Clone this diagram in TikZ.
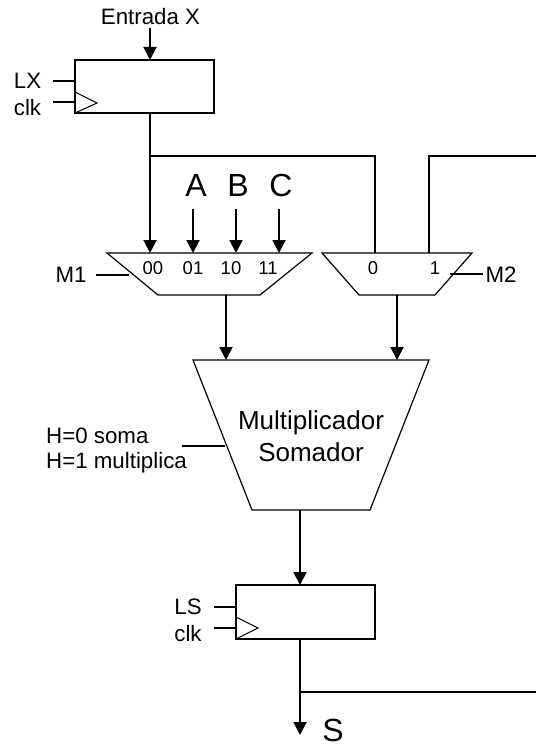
\documentclass[tikz,border=0pt]{standalone}
\usepackage{fontspec}
\setmainfont{Liberation Sans}
\usepackage{xcolor}
\usepackage{tikz}
\usetikzlibrary{arrows.meta}

\tikzset{
    wire/.style={line width=1.2pt},
    bus/.style={line width=1.9pt, -{Triangle[length=13pt, width=13pt]}},
    reg/.style={draw, line width=1.2pt, rectangle, inner sep=0pt, outer sep=0pt},
    mux/.style={line width=1.2pt, line join=miter},
    small/.style={font=\fontsize{18.5}{20}\selectfont},
    mid/.style={font=\fontsize{22.3}{26}\selectfont},
    big/.style={font=\fontsize{32}{36}\selectfont, inner sep=0pt},
}

\begin{document}
\begin{tikzpicture}[x=1pt, y=-1pt]
            \useasboundingbox (0, 0) rectangle (536, 746);

            % blocks
            \node[reg, minimum width=139pt, minimum height=53pt] (regx) at (144.5, 86.5) {};
            \node[reg, minimum width=139pt, minimum height=54pt] (regs) at (305.5, 612) {};
            \draw[mux] (107, 253) -- (312, 253) -- (260, 295) -- (158, 295) -- cycle; % M1
            \draw[mux] (322, 253) -- (472, 253) -- (435, 295) -- (359, 295) -- cycle; % M2
            \draw[mux] (193, 360) -- (429, 360) -- (370, 510) -- (252, 510) -- cycle; % alu
            \node[align=center, font=\fontsize{26}{32}\selectfont] (alu) at (311, 436) {Multiplicador\\Somador};

            % clock triangles
            \draw[line width=1pt] (75, 92) -- (97, 103) -- (75, 113);
            \draw[line width=1pt] (236, 617) -- (258, 628) -- (236, 639);

            % free ends
            \coordinate (inx) at (150, 28);
            \coordinate (xtop) at (150, 60);
            \coordinate (xbot) at (150, 113);
            \coordinate (tap) at (150, 156);
            \coordinate (p00) at (150, 253);
            \coordinate (p01) at (193, 253);
            \coordinate (p10) at (236, 253);
            \coordinate (p11) at (279, 253);
            \coordinate (ina) at (193, 209);
            \coordinate (inb) at (236, 209);
            \coordinate (inc) at (279, 209);
            \coordinate (q0) at (375, 253);
            \coordinate (q1) at (429, 253);
            \coordinate (c0) at (375, 156);
            \coordinate (c1) at (429, 156);
            \coordinate (e1) at (536, 156);
            \coordinate (m1out) at (226, 295);
            \coordinate (m1in) at (226, 360);
            \coordinate (m2out) at (397, 295);
            \coordinate (m2in) at (397, 360);
            \coordinate (aluout) at (300, 510);
            \coordinate (stop) at (300, 585);
            \coordinate (sbot) at (300, 639);
            \coordinate (sfork) at (300, 692);
            \coordinate (send) at (300, 735);
            \coordinate (e2) at (536, 692);

            % labels
            \node[mid] (tx) at (150.5, 17) {Entrada X};
            \node[mid] (tlx) at (27.5, 81) {LX};
            \node[mid] (tclk) at (27.5, 108) {clk};
            \node[big] (ta) at (196, 185) {A};
            \node[big] (tb) at (238, 185) {B};
            \node[big] (tc) at (281, 185) {C};
            \node[small] (t00) at (153, 268) {00};
            \node[small] (t01) at (193, 268) {01};
            \node[small] (t10) at (231, 268) {10};
            \node[small] (t11) at (268, 268) {11};
            \node[small] (t0) at (373, 268) {0};
            \node[small] (t1) at (435, 268) {1};
            \node[mid] (tm1) at (71, 275) {M1};
            \node[mid] (tm2) at (501, 275) {M2};
            \node[mid, anchor=west, inner sep=0pt] (th0) at (46, 436) {H=0 soma};
            \node[mid, anchor=west, inner sep=0pt] (th1) at (46, 463) {H=1 multiplica};
            \node[mid] (tls) at (188, 607) {LS};
            \node[mid] (tclks) at (188, 634) {clk};
            \node[big, anchor=base] (ts) at (333, 741) {S};

            % control stubs
            \coordinate (lx) at (53, 81);
            \coordinate (lxe) at (75, 81);
            \coordinate (ck) at (53, 102);
            \coordinate (cke) at (75, 102);
            \coordinate (ls) at (214, 607);
            \coordinate (lse) at (236, 607);
            \coordinate (cs) at (214, 628);
            \coordinate (cse) at (236, 628);
            \coordinate (sm1) at (96, 275);
            \coordinate (sm1e) at (129, 275);
            \coordinate (sm2) at (450, 274);
            \coordinate (sm2e) at (483, 274);
            \coordinate (sh) at (182, 446);
            \coordinate (she) at (225, 446);

            \draw[wire] (lx) -- (lxe); % LX
            \draw[wire] (ck) -- (cke); % clk
            \draw[wire] (ls) -- (lse); % LS
            \draw[wire] (cs) -- (cse); % clk
            \draw[wire] (sm1) -- (sm1e); % M1
            \draw[wire] (sm2) -- (sm2e); % M2
            \draw[wire] (sh) -- (she); % H

            \draw[bus] (inx) -- (xtop);
            \draw[bus] (xbot) -- (p00);
            \draw[bus] (ina) -- (p01);
            \draw[bus] (inb) -- (p10);
            \draw[bus] (inc) -- (p11);
            \draw[bus] (m1out) -- (m1in);
            \draw[bus] (m2out) -- (m2in);
            \draw[bus] (aluout) -- (stop);
            \draw[bus] (sbot) -- (send);

            \draw[wire] (tap) -- (c0) -- (q0); % to M2 0
            \draw[wire] (e1) -- (c1) -- (q1); % to M2 1
            \draw[wire] (sfork) -- (e2); % S out
        \end{tikzpicture}
\end{document}
